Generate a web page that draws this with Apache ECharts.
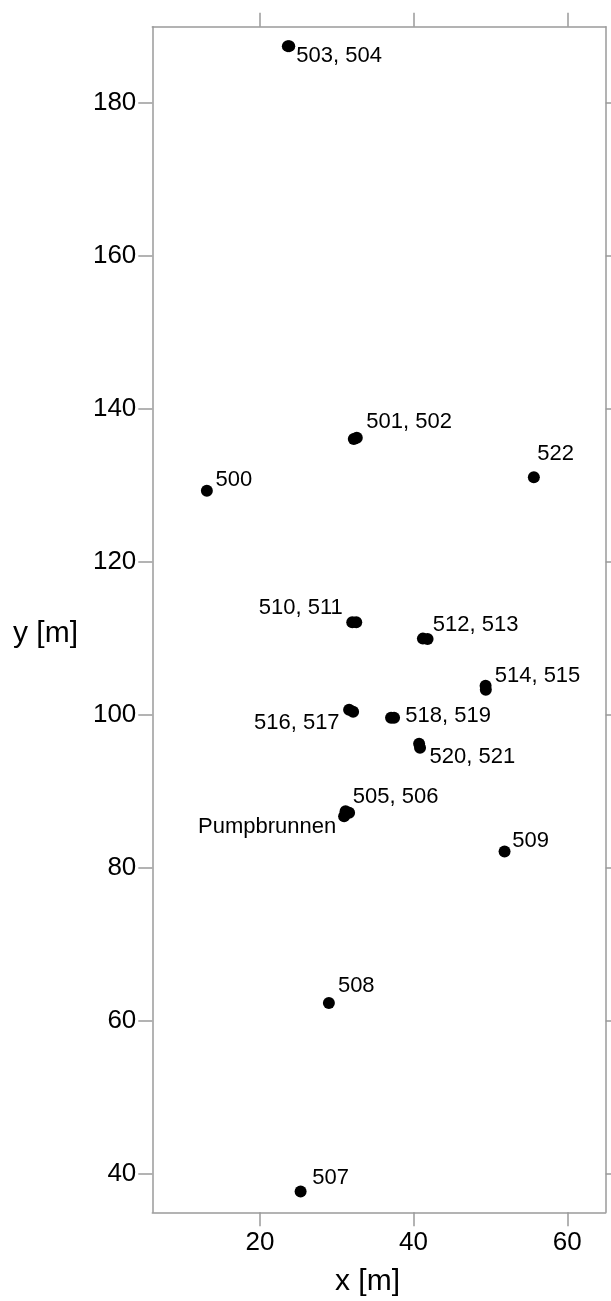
<!DOCTYPE html>
<html>
<head>
<meta charset="utf-8">
<title>Brunnenstandorte</title>
<script src="https://cdn.jsdelivr.net/npm/echarts@6/dist/echarts.min.js"></script>
<style>
  html, body { margin: 0; padding: 0; background: #fff; }
  #chart { width: 611px; height: 1301px; }
</style>
</head>
<body>
<div id="chart"></div>
<script>
// Well positions in metres
const wellNames = ['500','501','502','503','504','505','506','507','508','509','510','511',
                   '512','513','514','515','516','517','518','519','520','521','522','Pumpbrunnen'];
const wellX = [13.10, 32.22, 32.61, 23.64, 23.82, 31.61, 31.15, 25.30, 28.98, 51.84, 32.02, 32.54,
               41.21, 41.82, 49.37, 49.40, 31.61, 32.13, 37.07, 37.46, 40.72, 40.84, 55.65, 30.96];
const wellY = [129.32, 136.10, 136.25, 187.46, 187.46, 87.23, 87.42, 37.72, 62.35, 82.17, 112.13, 112.13,
               110.00, 109.95, 103.83, 103.31, 100.69, 100.43, 99.65, 99.65, 96.25, 95.73, 131.11, 86.77];

// Label texts and the wells each label belongs to
const labelTexts = ['500','501, 502','503, 504','505, 506','Pumpbrunnen','507','508','509',
                    '510, 511','512, 513','514, 515','516, 517','518, 519','520, 521','522'];
const labelMembers = [['500'],['501','502'],['503','504'],['505','506','Pumpbrunnen'],
                      ['505','506','Pumpbrunnen'],['507'],['508'],['509'],['510','511'],
                      ['512','513'],['514','515'],['516','517'],['518','519'],['520','521'],['522']];

// Axis ticks
const xTicks = [20, 40, 60];
const yTicks = [40, 60, 80, 100, 120, 140, 160, 180];

// Label placement around the marker group: [anchor side, dx, dy] in pixels
const labelPlacement = {
  '500': ['left', 8.7, -10.5],
  '501, 502': ['left', 11, -16],
  '503, 504': ['left', 7.7, 10],
  '505, 506': ['left', 6.6, -16.7],
  'Pumpbrunnen': ['right', -10, 13.3],
  '507': ['left', 11.7, -14],
  '508': ['left', 9, -16.7],
  '509': ['left', 7.7, -10.5],
  '510, 511': ['right', -11.4, -14],
  '512, 513': ['left', 7.6, -13.7],
  '514, 515': ['left', 9, -11.7],
  '516, 517': ['right', -11.5, 11.8],
  '518, 519': ['left', 12.7, -2.3],
  '520, 521': ['left', 10, 10.7],
  '522': ['left', 3.4, -23]
};

const FONT = '"Liberation Sans", Arial, Helvetica, sans-serif';
const FRAME = '#9a9a9a';

const wellData = wellNames.map((n, i) => ({ name: n, value: [wellX[i], wellY[i]] }));

const labelData = labelTexts.map((t, i) => {
  const idx = labelMembers[i].map(m => wellNames.indexOf(m));
  const cx = idx.reduce((s, k) => s + wellX[k], 0) / idx.length;
  const cy = idx.reduce((s, k) => s + wellY[k], 0) / idx.length;
  const p = labelPlacement[t];
  return {
    name: t,
    value: [cx, cy],
    label: { align: p[0], offset: [p[1], p[2]] }
  };
});

const lineStyle = { color: FRAME, width: 1.5 };

function xAxisDef(pos, showLabels) {
  return {
    type: 'value', position: pos, min: 6, max: 65,
    axisLine: { show: true, onZero: false, lineStyle },
    axisTick: { show: true, inside: false, length: 14, customValues: xTicks, lineStyle },
    axisLabel: { show: showLabels, customValues: xTicks, margin: 18,
                 fontFamily: FONT, fontSize: 26, color: '#000' },
    splitLine: { show: false }
  };
}
function yAxisDef(pos, showLabels) {
  return {
    type: 'value', position: pos, min: 35, max: 190,
    axisLine: { show: true, onZero: false, lineStyle },
    axisTick: { show: true, inside: false, length: 14, customValues: yTicks, lineStyle },
    axisLabel: { show: showLabels, customValues: yTicks, margin: 16,
                 fontFamily: FONT, fontSize: 26, color: '#000' },
    splitLine: { show: false }
  };
}

const chart = echarts.init(document.getElementById('chart'), null, { renderer: 'canvas' });
chart.setOption({
  animation: false,
  backgroundColor: '#fff',
  grid: { left: 152.3, right: 5.3, top: 26.7, bottom: 88.7, containLabel: false },
  xAxis: [xAxisDef('bottom', true), xAxisDef('top', false)],
  yAxis: [yAxisDef('left', true), yAxisDef('right', false)],
  graphic: [
    { type: 'text', left: 13, top: 619,
      style: { text: 'y [m]', font: '30px ' + FONT, fill: '#000' } },
    { type: 'text', left: 335, top: 1267,
      style: { text: 'x [m]', font: '30px ' + FONT, fill: '#000' } }
  ],
  series: [
    {
      type: 'scatter', xAxisIndex: 0, yAxisIndex: 0, silent: true,
      symbol: 'circle', symbolSize: 12,
      itemStyle: { color: '#000', opacity: 1 },
      data: wellData
    },
    {
      type: 'scatter', xAxisIndex: 0, yAxisIndex: 0, silent: true,
      symbol: 'circle', symbolSize: 0.1,
      itemStyle: { color: 'rgba(0,0,0,0)', opacity: 1 },
      label: {
        show: true, position: 'inside', verticalAlign: 'middle',
        formatter: p => p.name,
        fontFamily: FONT, fontSize: 22, color: '#000', opacity: 1
      },
      data: labelData
    }
  ]
});
</script>
</body>
</html>
